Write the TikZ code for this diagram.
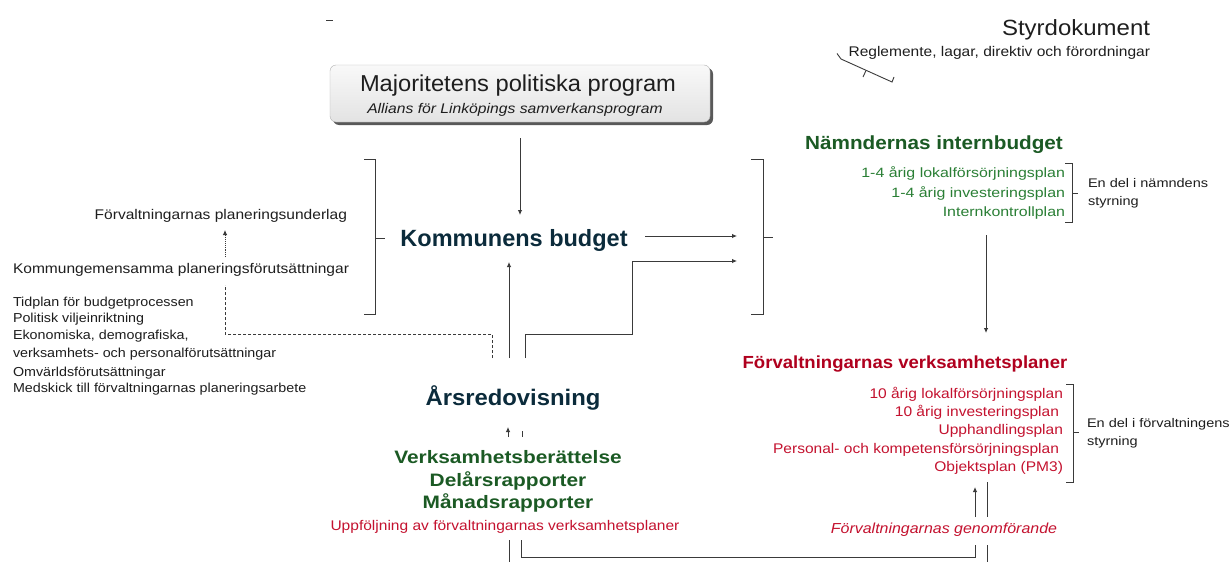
\documentclass[tikz,border=0pt]{standalone}
\usepackage{fontspec}
\usepackage{graphicx}
\setmainfont{Liberation Sans}
\usetikzlibrary{arrows.meta,shadows,calc}
\definecolor{navy}{HTML}{0B2B3B}
\definecolor{dgreen}{HTML}{1B5A24}
\definecolor{lgreen}{HTML}{2A7F35}
\definecolor{dred}{HTML}{B0001E}
\definecolor{lred}{HTML}{C4122F}
\definecolor{ln}{HTML}{3A3A3A}
\definecolor{txt}{HTML}{1E1E1E}
\tikzset{
  t/.style={inner sep=0pt, outer sep=0pt, text=txt},
  line/.style={draw=ln, line width=0.9pt},
  arr/.style={line, -{Latex[length=5pt,width=4.5pt]}},
  brk/.style={draw=ln, line width=0.9pt},
}
\newcommand{\fsz}[1]{\fontsize{#1}{#1}\selectfont}
\newcommand{\sx}[2]{\scalebox{#1}[1]{#2}}
\begin{document}
\begin{tikzpicture}[x=1pt,y=-1pt]
\useasboundingbox (0,0) rectangle (1230,562);
\fill[white] (0,0) rectangle (1230,562);
% stray dash
\draw[line, line width=0.7pt] (326,20) -- (333,20);

% Majoritetens box
\node[draw=gray!60, top color=gray!5, bottom color=gray!22, rounded corners=6pt,
      minimum width=380pt, minimum height=57pt, inner sep=0pt,
      drop shadow={shadow xshift=3pt, shadow yshift=-3pt, fill=black!65, opacity=1}] (maj) at (520,93.5) {};
\node[t, anchor=base, font=\fsz{23}] (majt) at (518,91) {\sx{1.03}{Majoritetens politiska program}};
\node[t, anchor=base, font=\fsz{14}\itshape] (majs) at (515,113) {\sx{1.12}{Allians för Linköpings samverkansprogram}};

% Kommunens budget
\node[t, anchor=base, font=\fsz{23.5}\bfseries, text=navy] (kb) at (514,246) {Kommunens budget};

% left texts
\node[t, anchor=base east, font=\fsz{14}] (fpu) at (347,219) {\sx{1.11}{Förvaltningarnas planeringsunderlag}};
\node[t, anchor=base west, font=\fsz{14}] (kg) at (13,273) {\sx{1.11}{Kommungemensamma planeringsförutsättningar}};
\foreach \i/\yy/\s in {1/306/Tidplan för budgetprocessen, 2/322/Politisk viljeinriktning,
   3/339/{Ekonomiska, demografiska,}, 4/357/verksamhets- och personalförutsättningar,
   5/376/Omvärldsförutsättningar, 6/392/Medskick till förvaltningarnas planeringsarbete}
  \node[t, anchor=base west, font=\fsz{13}] (lst\i) at (13,\yy) {\sx{1.1}{\s}};

% left bracket
\draw[brk] (364,159) -- (375,159) -- (375,314) -- (364,314);
\draw[brk] (375,238) -- (385,238);

% right bracket (input of Nämndernas)
\draw[brk] (751,159) -- (763,159) -- (763,314) -- (751,314);
\draw[brk] (763,237) -- (773,237);
\coordinate (rb1) at (737,236);
\coordinate (rb2) at (737,261);

% Styrdokument
\node[t, anchor=base east, font=\fsz{22}] (sty) at (1150,35) {\sx{1.09}{Styrdokument}};
\node[t, anchor=base east, font=\fsz{14}] (reg) at (1150,56) {\sx{1.11}{Reglemente, lagar, direktiv och förordningar}};
\draw[brk, line width=0.9pt] (837,53.5) -- (841,59) -- (892,82) -- (894,77);
\draw[brk, line width=0.9pt] (866,70.5) -- (863,77);

% Nämndernas internbudget
\node[t, anchor=base, font=\fsz{19}\bfseries, text=dgreen] (nib) at (934,149) {\sx{1.09}{Nämndernas internbudget}};
\foreach \i/\yy/\s in {1/177/1-4 årig lokalförsörjningsplan, 2/197/1-4 årig investeringsplan, 3/216/Internkontrollplan}
  \node[t, anchor=base east, font=\fsz{13.5}, text=lgreen] (nl\i) at (1065,\yy) {\sx{1.18}{\s}};
\draw[brk] (1065,163) -- (1072,163) -- (1072,222) -- (1065,222);
\draw[brk] (1072,193) -- (1078,193);
\node[t, anchor=base west, font=\fsz{12.5}] (nds1) at (1088,187) {\sx{1.16}{En del i nämndens}};
\node[t, anchor=base west, font=\fsz{12.5}] (nds2) at (1088,205) {\sx{1.16}{styrning}};

% Förvaltningarnas verksamhetsplaner
\node[t, anchor=base, font=\fsz{17.5}\bfseries, text=dred] (fvp) at (905,368) {\sx{1.06}{Förvaltningarnas verksamhetsplaner}};
\foreach \i/\yy/\s/\xx in {1/398/10 årig lokalförsörjningsplan/1063, 2/416/10 årig investeringsplan/1059,
   3/434/Upphandlingsplan/1063, 4/453/Personal- och kompetensförsörjningsplan/1059, 5/471/Objektsplan (PM3)/1063}
  \node[t, anchor=base east, font=\fsz{14}, text=lred] (fl\i) at (\xx,\yy) {\sx{1.11}{\s}};
\draw[brk] (1066,384) -- (1073,384) -- (1073,482) -- (1066,482);
\draw[brk] (1073,432) -- (1079,432);
\node[t, anchor=base west, font=\fsz{12.5}] (fds1) at (1087,427) {\sx{1.16}{En del i förvaltningens}};
\node[t, anchor=base west, font=\fsz{12.5}] (fds2) at (1087,445) {\sx{1.16}{styrning}};

% Årsredovisning etc.
\node[t, anchor=base, font=\fsz{22.5}\bfseries, text=navy] (ars) at (513,405) {\sx{1.06}{Årsredovisning}};
\node[t, anchor=base, font=\fsz{18}\bfseries, text=dgreen] (vb) at (508,463) {\sx{1.16}{Verksamhetsberättelse}};
\node[t, anchor=base, font=\fsz{18}\bfseries, text=dgreen] (dr) at (508,486) {\sx{1.16}{Delårsrapporter}};
\node[t, anchor=base, font=\fsz{18}\bfseries, text=dgreen] (mr) at (508,508) {\sx{1.16}{Månadsrapporter}};
\node[t, anchor=base, font=\fsz{14}, text=lred] (upp) at (505,530) {\sx{1.11}{Uppföljning av förvaltningarnas verksamhetsplaner}};
\node[t, anchor=base, font=\fsz{14.5}\itshape, text=lred] (gen) at (944,533) {\sx{1.1}{Förvaltningarnas genomförande}};

% connectors
\draw[arr] (maj.south |- 0,138) -- (maj.south |- 0,215);
\draw[arr] (509,358) -- (509,262);
\draw[arr] (645,236) -- (rb1);
\draw[arr] (525,358) -- (525,334) -- (632,334) -- (632,261) -- (rb2);
\draw[line, densely dashed, line width=0.7pt] (492,358) -- (492,334) -- (225,334) -- (225,285);
\draw[line, densely dotted, line width=0.8pt, -{Latex[length=5pt,width=4.5pt]}] (225,257) -- (225,230);
\draw[arr] (986,235) -- (986,333);
\draw[arr] (508,437) -- (508,427);
\draw[line, line width=0.6pt] (522,431) -- (522,437);
\draw[arr] (975,517) -- (975,487);
\draw[line] (987,482) -- (987,517);
\draw[line] (509,540) -- (509,562);
\draw[line] (521,540) -- (521,557) -- (975,557) -- (975,545);
\draw[line] (987,545) -- (987,562);
\end{tikzpicture}
\end{document}
